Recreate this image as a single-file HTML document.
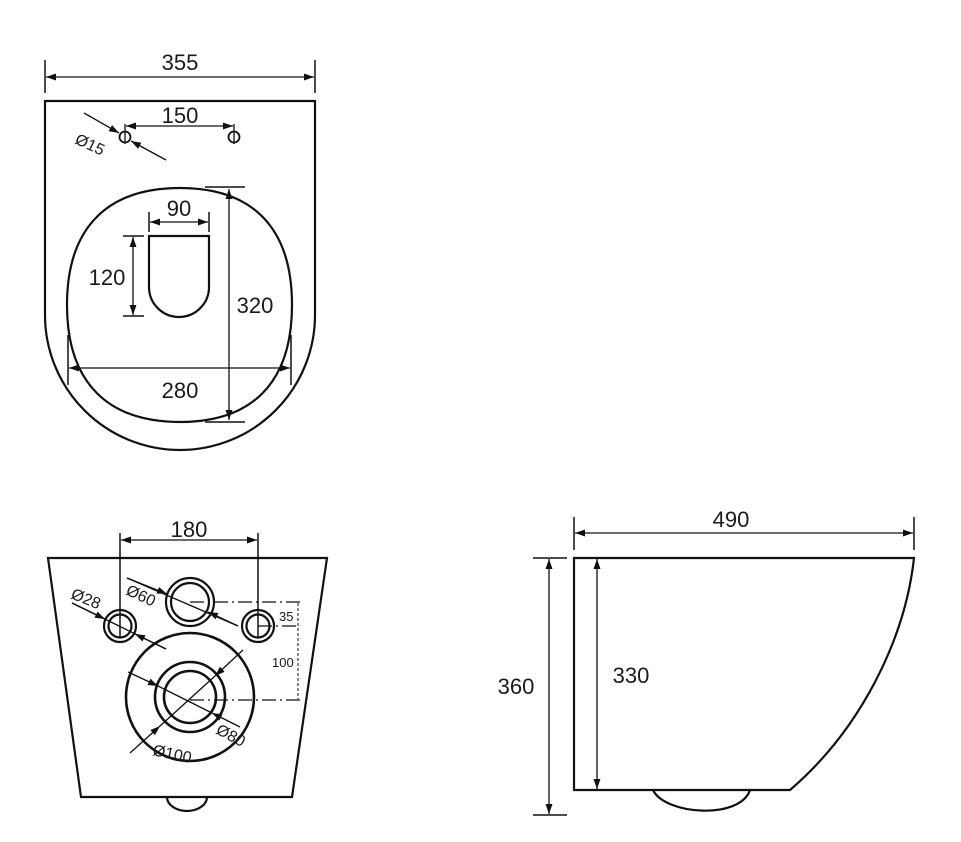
<!DOCTYPE html>
<html><head><meta charset="utf-8"><style>
html,body{margin:0;padding:0;background:#fff;}
svg{display:block;}
text{font-family:"Liberation Sans",Arial,sans-serif;fill:#1a1a1a;}
</style></head><body>
<svg width="961" height="842" viewBox="0 0 961 842" xmlns="http://www.w3.org/2000/svg">
<defs>
<marker id="a" viewBox="0 0 10 10" refX="10" refY="5" markerWidth="10" markerHeight="10" orient="auto-start-reverse" markerUnits="userSpaceOnUse"><path d="M0,1.5 L10,5 L0,8.5 z" fill="#111"/></marker>
</defs>
<g fill="none" stroke="#111" stroke-width="2.2">
<!-- TOP VIEW -->
<path d="M45,101 L315,101 L315,315 A135,135 0 0 1 45,315 Z"/>
<line x1="45" y1="60" x2="45" y2="93" stroke-width="1.5"/>
<line x1="315" y1="60" x2="315" y2="93" stroke-width="1.5"/>
<line x1="46" y1="77" x2="314" y2="77" stroke-width="1.3" marker-start="url(#a)" marker-end="url(#a)"/>
<circle cx="125" cy="137" r="5.5" stroke-width="1.8"/>
<line x1="125" y1="124" x2="125" y2="144" stroke-width="1.3"/>
<circle cx="234" cy="137" r="5.5" stroke-width="1.8"/>
<line x1="234" y1="124" x2="234" y2="144" stroke-width="1.3"/>
<line x1="126" y1="126" x2="233" y2="126" stroke-width="1.3" marker-start="url(#a)" marker-end="url(#a)"/>
<line x1="84" y1="113" x2="119" y2="133" stroke-width="1.3" marker-end="url(#a)"/>
<line x1="166" y1="160" x2="131" y2="141" stroke-width="1.3" marker-end="url(#a)"/>
<path d="M180,188 C250,188 292,225 292,305 C292,385 250,422 180,422 C110,422 67,385 67,305 C67,225 110,188 180,188 Z"/>
<line x1="205" y1="187" x2="245" y2="187" stroke-width="1.5"/>
<line x1="205" y1="422" x2="245" y2="422" stroke-width="1.5"/>
<line x1="229" y1="189" x2="229" y2="420" stroke-width="1.3" marker-start="url(#a)" marker-end="url(#a)"/>
<line x1="68" y1="335" x2="68" y2="385" stroke-width="1.5"/>
<line x1="291" y1="335" x2="291" y2="385" stroke-width="1.5"/>
<line x1="69" y1="368" x2="290" y2="368" stroke-width="1.3" marker-start="url(#a)" marker-end="url(#a)"/>
<path d="M149,236 L209,236 L209,287 A30,30 0 0 1 149,287 Z"/>
<line x1="149" y1="212" x2="149" y2="232" stroke-width="1.5"/>
<line x1="209" y1="212" x2="209" y2="232" stroke-width="1.5"/>
<line x1="150" y1="222" x2="208" y2="222" stroke-width="1.3" marker-start="url(#a)" marker-end="url(#a)"/>
<line x1="123" y1="236" x2="144" y2="236" stroke-width="1.5"/>
<line x1="123" y1="316" x2="144" y2="316" stroke-width="1.5"/>
<line x1="133" y1="237" x2="133" y2="315" stroke-width="1.3" marker-start="url(#a)" marker-end="url(#a)"/>
<!-- BOTTOM-LEFT VIEW -->
<path d="M48,558 L327,558 L292,797 L81,797 Z"/>
<path d="M167,797 A20,14 0 0 0 207,797"/>
<line x1="120" y1="533" x2="120" y2="637" stroke-width="1.5"/>
<line x1="258" y1="533" x2="258" y2="637" stroke-width="1.5"/>
<line x1="121" y1="540" x2="257" y2="540" stroke-width="1.3" marker-start="url(#a)" marker-end="url(#a)"/>
<circle cx="120" cy="626" r="16"/><circle cx="120" cy="626" r="11.5"/>
<circle cx="258" cy="626" r="16"/><circle cx="258" cy="626" r="11.5"/>
<circle cx="190" cy="602" r="24"/><circle cx="190" cy="602" r="19"/>
<circle cx="190" cy="697" r="64" stroke-width="2.6"/><circle cx="190" cy="697" r="35" stroke-width="2.6"/><circle cx="190" cy="697" r="26" stroke-width="2.6"/>
<g stroke-width="1.2" stroke-dasharray="14,4,2,4">
<line x1="190" y1="602" x2="300" y2="602"/>
<line x1="258" y1="626" x2="300" y2="626"/>
<line x1="190" y1="700" x2="300" y2="700"/>
</g>
<line x1="298" y1="603" x2="298" y2="699" stroke-width="1" stroke-dasharray="3,2"/>
<line x1="72" y1="603" x2="166" y2="649" stroke-width="1.3"/>
<line x1="72" y1="603" x2="105" y2="619" stroke-width="1.3" marker-end="url(#a)"/>
<line x1="166" y1="649" x2="135" y2="634" stroke-width="1.3" marker-end="url(#a)"/>
<line x1="127" y1="578" x2="238" y2="626" stroke-width="1.3"/>
<line x1="127" y1="578" x2="167" y2="594" stroke-width="1.3" marker-end="url(#a)"/>
<line x1="238" y1="626" x2="208" y2="612" stroke-width="1.3" marker-end="url(#a)"/>
<line x1="128" y1="672" x2="158" y2="686" stroke-width="1.3" marker-end="url(#a)"/>
<line x1="240" y1="727" x2="212" y2="713" stroke-width="1.3" marker-end="url(#a)"/>
<line x1="243" y1="650" x2="215" y2="676" stroke-width="1.3" marker-end="url(#a)"/>
<line x1="130" y1="753" x2="160" y2="726" stroke-width="1.3" marker-end="url(#a)"/>
<line x1="160" y1="726" x2="215" y2="676" stroke-width="1.3"/>
<line x1="158" y1="686" x2="212" y2="713" stroke-width="1.3"/>
<!-- SIDE VIEW -->
<path d="M574,558 L914,558 C905,640 860,730 790,790 L574,790 Z"/>
<path d="M653,790 C665,815 740,820 750,790"/>
<line x1="574" y1="517" x2="574" y2="550" stroke-width="1.5"/>
<line x1="914" y1="517" x2="914" y2="550" stroke-width="1.5"/>
<line x1="575" y1="533" x2="913" y2="533" stroke-width="1.3" marker-start="url(#a)" marker-end="url(#a)"/>
<line x1="533" y1="558" x2="567" y2="558" stroke-width="1.5"/>
<line x1="533" y1="815" x2="567" y2="815" stroke-width="1.5"/>
<line x1="549" y1="559" x2="549" y2="814" stroke-width="1.3" marker-start="url(#a)" marker-end="url(#a)"/>
<line x1="597" y1="559" x2="597" y2="789" stroke-width="1.3" marker-start="url(#a)" marker-end="url(#a)"/>
</g>
<g font-size="22" text-anchor="middle">
<text x="180" y="70">355</text>
<text x="180" y="123">150</text>
<text x="179" y="216">90</text>
<text x="107" y="285">120</text>
<text x="255" y="313">320</text>
<text x="180" y="398">280</text>
<text x="189" y="537">180</text>
<text x="731" y="527">490</text>
<text x="516" y="694">360</text>
<text x="631" y="683">330</text>
</g>
<g font-size="16">
<text transform="translate(74,143) rotate(25)">Ø15</text>
<text transform="translate(70,598) rotate(22)">Ø28</text>
<text transform="translate(125,594) rotate(25)">Ø60</text>
<text transform="translate(215,733) rotate(28)">Ø80</text>
<text transform="translate(152,755) rotate(12)">Ø100</text>
<text x="279" y="621" font-size="13">35</text>
<text x="272" y="667" font-size="13">100</text>
</g>
</svg>
</body></html>
